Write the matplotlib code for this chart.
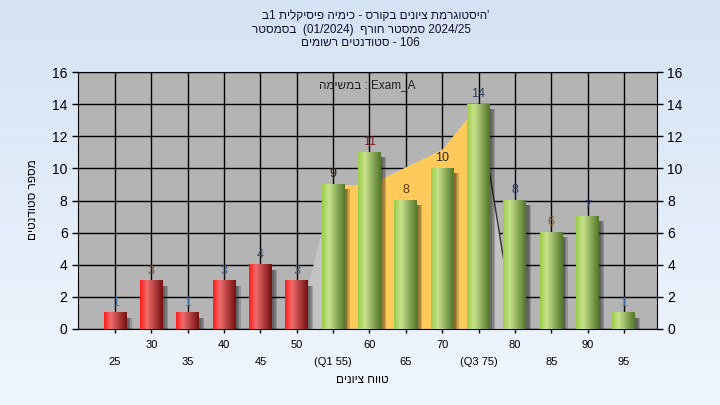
import re
import matplotlib
matplotlib.use('Agg')
import matplotlib.pyplot as plt
import numpy as np
from matplotlib.colors import LinearSegmentedColormap

plt.rcParams['font.family'] = ['Liberation Sans', 'DejaVu Sans']

# data
grades = [25, 30, 35, 40, 45, 50, 55, 60, 65, 70, 75, 80, 85, 90, 95]
tick_labels = ['25', '30', '35', '40', '45', '50', '(Q1 55)', '60', '65', '70',
               '(Q3 75)', '80', '85', '90', '95']
counts = [1, 3, 1, 3, 4, 3, 9, 11, 8, 10, 14, 8, 6, 7, 1]
pass_grade = 55
label_colors = ['#3f76b0', '#8b4513', '#4a7ab0', '#3a5f8a', '#3a4a6a', '#3a5f8a',
                '#302010', '#7a1a2a', '#5a3a10', '#2a2a2a', '#2a3a5a', '#2a3a6a',
                '#8a5a20', '#2a3a6a', '#4a7ab0']

# background bands (category index, value)
band_pos = [5, 6, 7, 8, 9, 10, 11]
band_vals = [0, 9, 9, 10.1, 11.2, 14, 0]
iqr_pos = [6, 7, 8, 9, 10]
iqr_vals = [9, 9, 10.1, 11.2, 14]

title_lines = ["'היסטוגרמת ציונים בקורס - כימיה פיסיקלית 1ב",
               "בסמסטר  (01/2024)  סמסטר חורף 2024/25",
               "סטודנטים רשומים - 106"]
annot = "במשימה : Exam_A"
xlabel = "טווח ציונים"
ylabel = "מספר סטודנטים"


def heb(s):
    # matplotlib lays glyphs out left to right: flip every Hebrew run,
    # but keep numbers inside it readable
    def flip(m):
        r = m.group(0)[::-1]
        return re.sub(r'[0-9]+', lambda d: d.group(0)[::-1], r)
    return re.sub(r"'?[\u0590-\u05FF](?:[\u0590-\u05FF \-0-9]*[\u0590-\u05FF])?",
                  flip, s)


fig = plt.figure(figsize=(7.2, 4.05), dpi=100)

# light blue figure gradient
bg = fig.add_axes([0, 0, 1, 1], zorder=-10)
bg_cmap = LinearSegmentedColormap.from_list('bg', ['#d5e3f4', '#f0f6fd'])
bg.imshow(np.linspace(0, 1, 100).reshape(-1, 1), cmap=bg_cmap, aspect='auto',
          extent=(0, 1, 0, 1))
bg.axis('off')

ax = fig.add_axes([78 / 720, 1 - 329 / 405, 579 / 720, 257 / 405])
ax.set_facecolor('#b4b4b4')

x = np.arange(len(grades))

ax.grid(True, color='black', linewidth=1, zorder=0)
ax.set_axisbelow(True)

ax.fill_between(band_pos, band_vals, color='#c3c3c3', zorder=1, linewidth=0)
ax.plot(band_pos[-2:], band_vals[-2:], color='#333333', linewidth=1, zorder=1.5)
ax.fill_between(iqr_pos, iqr_vals, color='#ffca5a', zorder=2, linewidth=0)

width = 0.63
# soft shadows
for dx, a in [(0.06, 0.18), (0.1, 0.18), (0.14, 0.18)]:
    ax.bar(x + dx, counts, width=width, bottom=-0.3, color='black', alpha=a,
           zorder=3, linewidth=0)

red_cmap = LinearSegmentedColormap.from_list(
    'red', [(0, '#ff1a1a'), (0.3, '#f06c6c'), (1, '#741010')])
green_cmap = LinearSegmentedColormap.from_list(
    'green', [(0, '#9ccb48'), (0.3, '#c8e28c'), (1, '#52762a')])

colors = ['#e03030' if g < pass_grade else '#9ccb48' for g in grades]
bars = ax.bar(x, counts, width=width, color=colors, zorder=4, linewidth=0)

grad = np.linspace(0, 1, 128).reshape(1, -1)
for b, g in zip(bars, grades):
    cm = red_cmap if g < pass_grade else green_cmap
    x0 = b.get_x()
    ax.imshow(grad, cmap=cm, extent=(x0, x0 + b.get_width(), 0, b.get_height()),
              aspect='auto', zorder=5, interpolation='bilinear')

for i, (c, lc) in enumerate(zip(counts, label_colors)):
    ax.annotate(str(c), (x[i], c), xytext=(0, 3), textcoords='offset points',
                ha='center', va='bottom', fontsize=9, color=lc, zorder=6)

ax.set_xlim(-1.02, 14.91)
ax.set_ylim(0, 16)
ax.set_yticks(range(0, 17, 2))
ax.set_xticks(x)
ax.set_xticklabels([])
ax.tick_params(axis='x', direction='out', length=3, width=1)
ax.tick_params(axis='y', direction='out', length=4, width=1, labelsize=10,
               right=True, labelright=True)
for s in ax.spines.values():
    s.set_color('black')

# two-row x labels
tr = ax.get_xaxis_transform()
for i, lab in enumerate(tick_labels):
    yy = -0.062 if i % 2 else -0.128
    ax.text(x[i], yy, lab, transform=tr, ha='center', va='center', fontsize=8)

ax.text(0.5, 0.949, heb(annot), transform=ax.transAxes, ha='center', va='center',
        fontsize=8.5, color='#202020')

fig.text(376 / 720, 1 - 16 / 405, heb(title_lines[0]), ha='center', va='center',
         fontsize=8.5, color='#101030')
fig.text(362 / 720, 1 - 30 / 405, heb(title_lines[1]), ha='center', va='center',
         fontsize=8.5, color='#101030')
fig.text(360 / 720, 1 - 43 / 405, heb(title_lines[2]), ha='center', va='center',
         fontsize=8.5, color='#101030')

fig.text(362 / 720, 1 - 380 / 405, heb(xlabel), ha='center', va='center',
         fontsize=8.5)
fig.text(33 / 720, 1 - 200 / 405, heb(ylabel), ha='center', va='center',
         fontsize=8.5, rotation=90)

fig.savefig('out.png', dpi=100)
